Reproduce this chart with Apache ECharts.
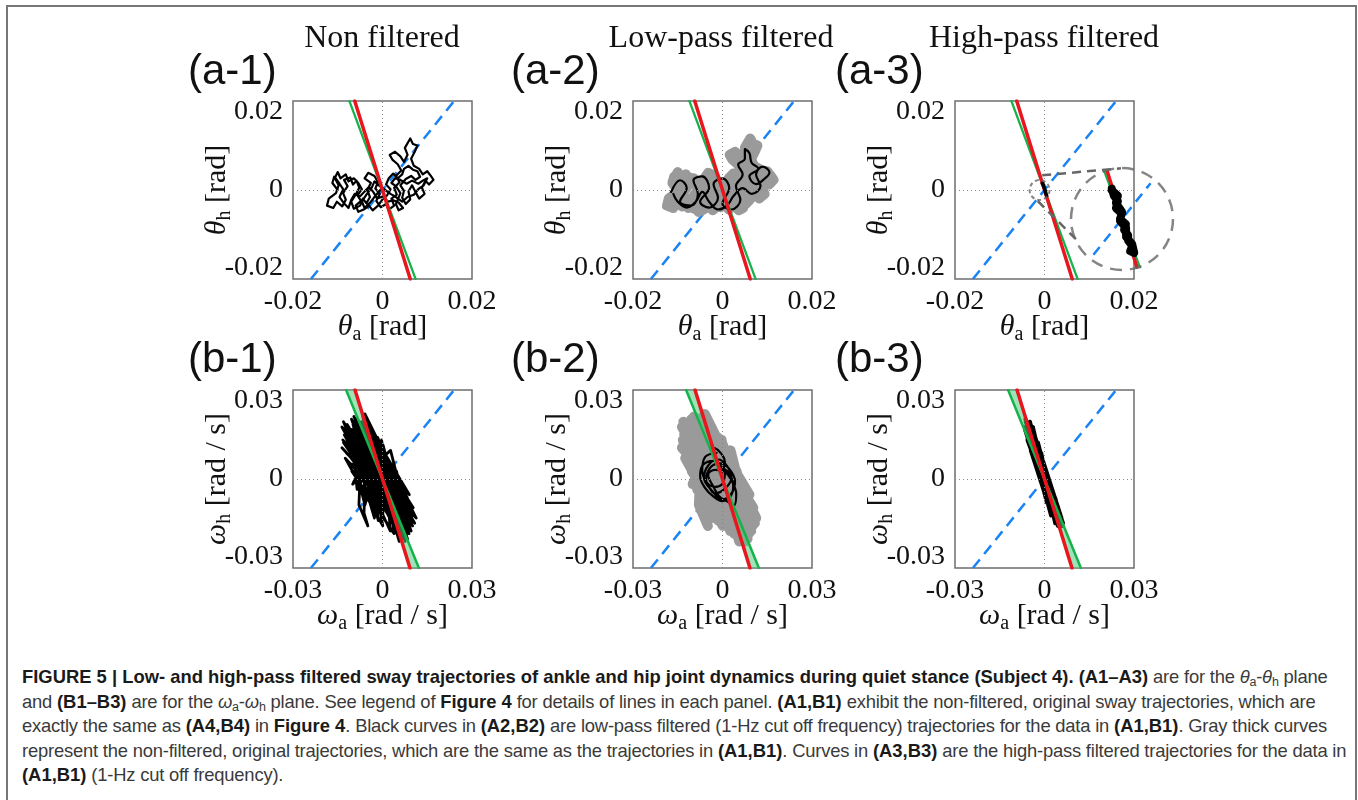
<!DOCTYPE html>
<html>
<head>
<meta charset="utf-8">
<title>Figure 5</title>
<script src="https://cdn.jsdelivr.net/npm/echarts@6/dist/echarts.min.js"></script>
<style>
body { margin: 0; width: 1358px; height: 800px; overflow: hidden; background: #fff; position: relative; }
.frame { position: absolute; left: 6px; top: 5px; width: 1347px; height: 830px; border: 2px solid #777; }
#chart { position: absolute; left: 0; top: 0; width: 1358px; height: 655px; }
.caption { position: absolute; left: 22px; top: 665px; font-family: 'Liberation Sans', Arial, sans-serif;
  font-size: 18.4px; line-height: 24.5px; color: #3a3a3a; white-space: nowrap; letter-spacing: -0.2px; }
.caption b { color: #1a1a1a; letter-spacing: 0; }
.caption sub { font-size: 12.5px; vertical-align: -3px; line-height: 0; }
</style>
</head>
<body>
<div class="frame"></div>
<div id="chart"></div>
<div class="caption">
  <div><b>FIGURE 5 | Low- and high-pass filtered sway trajectories of ankle and hip joint dynamics during quiet stance (Subject 4). (A1–A3)</b> are for the <i>θ</i><sub>a</sub>-<i>θ</i><sub>h</sub> plane</div>
  <div>and <b>(B1–B3)</b> are for the <i>ω</i><sub>a</sub>-<i>ω</i><sub>h</sub> plane. See legend of <b>Figure 4</b> for details of lines in each panel. <b>(A1,B1)</b> exhibit the non-filtered, original sway trajectories, which are</div>
  <div>exactly the same as <b>(A4,B4)</b> in <b>Figure 4</b>. Black curves in <b>(A2,B2)</b> are low-pass filtered (1-Hz cut off frequency) trajectories for the data in <b>(A1,B1)</b>. Gray thick curves</div>
  <div>represent the non-filtered, original trajectories, which are the same as the trajectories in <b>(A1,B1)</b>. Curves in <b>(A3,B3)</b> are the high-pass filtered trajectories for the data in</div>
  <div><b>(A1,B1)</b> (1-Hz cut off frequency).</div>
</div>
<script>
// axis ranges; the y ranges run a little past the outer tick
const thetaX = [-0.02, 0.02]
const thetaY = [-0.0228, 0.0228]
const thetaTicks = [-0.02, 0, 0.02]
const omegaX = [-0.03, 0.03]
const omegaY = [-0.0342, 0.0342]
const omegaTicks = [-0.03, 0, 0.03]

// reference lines (end points at top / bottom of the panel)
const thetaRed = [[-0.0062, 0.0228], [0.0062, -0.0228]]
const thetaGreen = [[-0.0074, 0.0228], [0.0074, -0.0228]]
const thetaDiag = [[-0.016, -0.0228], [0.016, 0.0228]]
const omegaRed = [[-0.0092, 0.0342], [0.0092, -0.0342]]
const omegaGreen = [[-0.0122, 0.0342], [0.0122, -0.0342]]
const omegaBandInner = [[-0.0094, 0.0342], [0.0094, -0.0342]]
const omegaDiag = [[-0.024, -0.0342], [0.024, 0.0342]]

// theta_a - theta_h trajectories
const nonFilteredTheta = [
  [-0.0100, 0.0000], [-0.0112, 0.0018], [-0.0108, 0.0034], [-0.0098, 0.0012], [-0.0104, -0.0008], [-0.0120, -0.0022],
  [-0.0124, -0.0040], [-0.0110, -0.0046], [-0.0102, -0.0030], [-0.0090, -0.0042], [-0.0082, -0.0025], [-0.0088, -0.0008],
  [-0.0078, 0.0010], [-0.0086, 0.0026], [-0.0072, 0.0032], [-0.0066, 0.0014], [-0.0058, 0.0024], [-0.0052, 0.0006],
  [-0.0060, -0.0012], [-0.0070, -0.0030], [-0.0064, -0.0048], [-0.0050, -0.0040], [-0.0044, -0.0022], [-0.0036, -0.0034],
  [-0.0028, -0.0018], [-0.0034, 0.0000], [-0.0026, 0.0018], [-0.0040, 0.0030], [-0.0032, 0.0044], [-0.0018, 0.0036],
  [-0.0010, 0.0020], [-0.0016, 0.0004], [-0.0006, -0.0010], [-0.0014, -0.0028], [-0.0004, -0.0044], [0.0008, -0.0036],
  [0.0014, -0.0050], [0.0026, -0.0040], [0.0020, -0.0022], [0.0032, -0.0012], [0.0026, 0.0006], [0.0038, 0.0020],
  [0.0030, 0.0036], [0.0042, 0.0050], [0.0034, 0.0066], [0.0022, 0.0078], [0.0016, 0.0090], [0.0028, 0.0098],
  [0.0040, 0.0086], [0.0048, 0.0072], [0.0056, 0.0090], [0.0050, 0.0108], [0.0062, 0.0132], [0.0068, 0.0118],
  [0.0078, 0.0114], [0.0072, 0.0098], [0.0064, 0.0080], [0.0070, 0.0062], [0.0082, 0.0054], [0.0090, 0.0040],
  [0.0100, 0.0048], [0.0108, 0.0036], [0.0114, 0.0026], [0.0104, 0.0014], [0.0096, 0.0024], [0.0088, 0.0006],
  [0.0094, -0.0010], [0.0082, -0.0022], [0.0074, -0.0006], [0.0066, 0.0012], [0.0058, -0.0004], [0.0062, -0.0024],
  [0.0052, -0.0036], [0.0044, -0.0020], [0.0048, -0.0002], [0.0040, 0.0012], [0.0052, 0.0028], [0.0064, 0.0036],
  [0.0074, 0.0026], [0.0084, 0.0034], [0.0078, 0.0048], [0.0068, 0.0052], [0.0058, 0.0062], [0.0048, 0.0054],
  [0.0044, 0.0040], [0.0034, 0.0030], [0.0024, 0.0042], [0.0014, 0.0030], [0.0008, 0.0014], [0.0018, 0.0002],
  [0.0010, -0.0014], [0.0000, -0.0024], [-0.0010, -0.0040], [-0.0022, -0.0052], [-0.0030, -0.0040], [-0.0042, -0.0050],
  [-0.0054, -0.0056], [-0.0060, -0.0040], [-0.0048, -0.0028], [-0.0056, -0.0014], [-0.0046, 0.0002], [-0.0054, 0.0018],
  [-0.0064, 0.0030], [-0.0076, 0.0022], [-0.0082, 0.0040], [-0.0094, 0.0030], [-0.0100, 0.0046], [-0.0106, 0.0032],
  [-0.0096, 0.0016], [-0.0088, 0.0002], [-0.0096, -0.0018], [-0.0086, -0.0034], [-0.0076, -0.0046], [-0.0070, -0.0026],
  [-0.0062, -0.0010], [-0.0050, -0.0016], [-0.0040, -0.0004], [-0.0030, 0.0008], [-0.0020, -0.0006], [-0.0012, -0.0022],
  [0.0002, -0.0016], [0.0012, -0.0030], [0.0024, -0.0026], [0.0036, -0.0032], [0.0046, -0.0046], [0.0036, -0.0052],
  [0.0030, -0.0036], [0.0040, -0.0008], [0.0030, 0.0010], [0.0020, 0.0018], [0.0028, 0.0030], [0.0040, 0.0026],
  [0.0054, 0.0016], [0.0066, 0.0024], [0.0080, 0.0016], [0.0090, 0.0024], [0.0100, 0.0030], [0.0092, 0.0012],
  [0.0080, 0.0002], [0.0070, -0.0012], [0.0056, -0.0018], [0.0044, -0.0030], [0.0030, -0.0018], [0.0018, -0.0010],
  [0.0006, 0.0000], [-0.0006, 0.0010], [-0.0018, 0.0022], [-0.0024, 0.0006], [-0.0036, -0.0012], [-0.0046, -0.0030],
  [-0.0040, -0.0046], [-0.0026, -0.0030], [-0.0014, -0.0012], [-0.0002, 0.0004]
]
const lowPassTheta = [
  [-0.0115, -0.0005], [-0.0095, 0.0025], [-0.0080, 0.0005], [-0.0095, -0.0030], [-0.0070, -0.0040], [-0.0055, -0.0010],
  [-0.0065, 0.0025], [-0.0045, 0.0035], [-0.0030, 0.0005], [-0.0050, -0.0030], [-0.0030, -0.0045], [-0.0010, -0.0020],
  [-0.0020, 0.0015], [0.0000, 0.0030], [0.0015, 0.0005], [0.0000, -0.0035], [0.0020, -0.0050], [0.0040, -0.0025],
  [0.0030, 0.0010], [0.0045, 0.0040], [0.0035, 0.0065], [0.0050, 0.0080], [0.0050, 0.0105], [0.0060, 0.0095],
  [0.0065, 0.0070], [0.0080, 0.0055], [0.0060, 0.0035], [0.0075, 0.0015], [0.0095, 0.0030], [0.0105, 0.0045],
  [0.0090, 0.0060], [0.0075, 0.0040], [0.0085, 0.0010], [0.0065, -0.0010], [0.0045, 0.0005], [0.0025, -0.0015],
  [0.0010, -0.0040], [-0.0010, -0.0050], [-0.0030, -0.0030], [-0.0045, -0.0005], [-0.0060, -0.0030], [-0.0080, -0.0045],
  [-0.0100, -0.0030], [-0.0110, -0.0010]
]
const highPassTheta = [
  [-0.0005, 0.0017], [-0.0004, 0.0013], [-0.0002, 0.0010], [-0.0003, 0.0006], [0.0000, 0.0003], [-0.0001, 0.0000],
  [0.0002, -0.0003], [0.0001, -0.0006], [0.0003, -0.0009], [0.0003, -0.0012], [0.0005, -0.0015], [0.0004, -0.0018],
  [0.0006, -0.0019], [0.0005, -0.0014], [0.0002, -0.0010], [0.0002, -0.0005], [-0.0001, -0.0001], [0.0000, 0.0004],
  [-0.0003, 0.0009], [-0.0002, 0.0013], [-0.0005, 0.0016]
]

// omega_a - omega_h trajectories
const nonFilteredOmega = [
  [-0.0101, 0.010], [0.0086, -0.012], [-0.0086, 0.016], [-0.0035, -0.008], [-0.0046, 0.020], [0.0086, -0.016],
  [-0.0110, 0.006], [0.0075, -0.004], [-0.0101, 0.022], [0.0056, -0.020], [-0.0006, 0.012], [-0.0059, -0.010],
  [-0.0121, 0.018], [0.0061, -0.014], [0.0035, 0.004], [0.0081, -0.022], [-0.0131, 0.014], [0.0090, -0.006],
  [-0.0066, 0.024], [0.0001, -0.018], [-0.0125, 0.008], [0.0036, -0.012], [-0.0028, 0.017], [-0.0100, -0.002],
  [0.0027, 0.011], [0.0093, -0.019], [-0.0119, 0.021], [-0.0027, -0.015], [-0.0018, 0.009], [0.0076, -0.024],
  [-0.0073, 0.019], [0.0063, -0.007], [-0.0098, 0.013], [0.0098, -0.017], [-0.0078, 0.005], [0.0103, -0.011],
  [-0.0084, 0.023], [-0.0002, -0.009], [-0.0003, 0.015], [0.0039, -0.021], [-0.0103, 0.003], [0.0038, -0.005],
  [-0.0051, 0.018], [-0.0062, -0.013], [-0.0049, -0.018], [-0.0079, -0.010], [-0.0073, 0.007], [0.0036, -0.016],
  [-0.0136, 0.020], [0.0063, -0.003], [-0.0066, 0.012], [0.0096, -0.020], [-0.0016, 0.016], [0.0035, -0.008],
  [-0.0121, 0.010], [0.0101, -0.014], [-0.0071, 0.022], [-0.0072, -0.001], [0.0020, 0.006], [0.0064, -0.023],
  [-0.0071, 0.014], [0.0063, -0.011], [-0.0103, 0.019], [0.0058, -0.017], [0.0005, 0.008], [-0.0060, -0.006],
  [-0.0059, 0.025], [0.0113, -0.015], [-0.0113, 0.011], [0.0068, -0.009], [-0.0128, 0.017], [0.0043, -0.019],
  [0.0020, 0.002], [-0.0034, -0.012], [-0.0059, 0.021], [0.0089, -0.021], [-0.0028, 0.013], [-0.0085, -0.004],
  [-0.0098, 0.009], [0.0076, -0.016], [-0.0133, 0.015], [0.0083, -0.007], [-0.0104, 0.023], [0.0018, -0.013],
  [0.0002, 0.005], [0.0051, -0.022], [-0.0031, 0.018], [0.0041, -0.010], [-0.0136, 0.012], [0.0101, -0.018],
  [-0.0023, 0.007], [-0.0072, -0.005], [-0.0086, 0.020], [0.0001, -0.014], [0.0009, 0.010], [0.0026, -0.020],
  [-0.0116, 0.016], [0.0075, -0.008], [-0.0045, 0.004], [0.0053, -0.015], [-0.0131, 0.022], [-0.0007, -0.011],
  [-0.0031, 0.014], [0.0084, -0.023], [-0.0043, 0.019], [-0.0047, -0.003], [-0.0083, 0.011], [0.0108, -0.017],
  [-0.0096, 0.024], [0.0048, -0.009], [-0.0105, 0.008], [0.0073, -0.019], [0.0002, 0.013], [0.0020, -0.006],
  [-0.0098, 0.017], [0.0069, -0.021], [0.0047, 0.003], [0.0078, -0.013], [-0.0099, 0.021], [-0.0014, -0.016],
  [-0.0038, 0.009], [0.0056, -0.012], [-0.0063, 0.015], [0.0050, -0.002], [-0.0090, 0.006], [0.0051, -0.018],
  [-0.0111, 0.018], [0.0091, -0.010], [-0.0036, 0.012], [0.0056, -0.024]
]
const lowPassOmega = [
  [-0.0020, 0.0100], [-0.0058, 0.0085], [-0.0068, 0.0030], [-0.0052, -0.0015], [-0.0025, -0.0055], [0.0010, -0.0035],
  [0.0030, 0.0005], [0.0012, 0.0055], [-0.0015, 0.0075], [-0.0048, 0.0052], [-0.0062, 0.0005], [-0.0035, -0.0045],
  [-0.0002, -0.0078], [0.0030, -0.0055], [0.0042, -0.0010], [0.0022, 0.0040], [-0.0008, 0.0060], [-0.0040, 0.0045],
  [-0.0055, -0.0005], [-0.0025, -0.0030], [0.0002, -0.0015], [0.0008, 0.0025], [-0.0025, 0.0035], [-0.0048, 0.0015],
  [-0.0030, -0.0030], [-0.0012, -0.0065], [0.0018, -0.0088], [0.0038, -0.0102], [0.0046, -0.0058], [0.0030, -0.0005],
  [0.0005, 0.0035], [-0.0030, 0.0070], [-0.0065, 0.0055], [-0.0075, 0.0012], [-0.0058, -0.0035], [-0.0030, -0.0068],
  [0.0000, -0.0085], [0.0028, -0.0065], [0.0036, -0.0025], [0.0020, 0.0025], [-0.0010, 0.0052], [-0.0032, 0.0095],
  [-0.0042, 0.0125], [-0.0012, 0.0108], [0.0008, 0.0065], [-0.0005, 0.0018]
]
const highPassOmega = [
  [-0.0063, 0.022], [0.0046, -0.012], [-0.0031, 0.016], [0.0036, -0.017], [-0.0039, 0.020], [0.0002, -0.006],
  [-0.0046, 0.011], [0.0061, -0.018], [-0.0061, 0.018], [0.0015, -0.010], [-0.0005, 0.007], [0.0057, -0.015],
  [-0.0049, 0.021], [0.0021, -0.004], [-0.0049, 0.013], [0.0045, -0.016], [-0.0022, 0.014], [0.0008, -0.009],
  [-0.0064, 0.023], [0.0046, -0.014], [-0.0026, 0.005], [0.0046, -0.011], [-0.0054, 0.017], [0.0045, -0.018],
  [-0.0012, 0.009], [0.0031, -0.007], [-0.0065, 0.019], [0.0021, -0.013], [-0.0026, 0.012], [0.0062, -0.017],
  [-0.0057, 0.015], [0.0006, -0.005], [-0.0011, 0.010], [0.0026, -0.012], [-0.0064, 0.020], [0.0057, -0.016],
  [-0.0002, 0.003], [0.0038, -0.008], [-0.0047, 0.016], [0.0022, -0.014], [-0.0030, 0.008], [0.0057, -0.018],
  [-0.0049, 0.022], [0.0031, -0.010], [-0.0044, 0.012], [0.0035, -0.015], [-0.0037, 0.018], [-0.0004, -0.003],
  [-0.0006, 0.006], [0.0042, -0.012]
]

// magnified view in (a-3)
const zoomSpot = [[-0.0011, 0]]
const zoomLinkTop = [[-0.00052, 0.00377], [0.01708, 0.00556]]
const zoomLinkBottom = [[-0.00151, -0.00282], [0.00719, -0.0128]]
const insetX = [-0.0025, 0.0025]
const insetY = [-0.00285, 0.00285]
const insetRed = [[-0.00073, 0.0027], [0.00073, -0.0027]]
const insetGreen = [[-0.00088, 0.0027], [0.00088, -0.0027]]
const insetDiag = [[-0.0014, -0.0020], [0.0014, 0.0020]]

const serif = '"Liberation Serif", "Times New Roman", serif'
const RED = '#e8161e'
const GREEN = '#16b24b'
const BLUE = '#1a84f5'
const GRAY = '#9a9a9a'

const nameStyle = {
  fontFamily: serif, fontSize: 30, color: '#111', lineHeight: 36,
  rich: {
    i: { fontFamily: serif, fontSize: 30, fontStyle: 'italic', color: '#111', lineHeight: 36 },
    s: { fontFamily: serif, fontSize: 20, color: '#111', lineHeight: 16, verticalAlign: 'bottom' }
  }
}

const chart = echarts.init(document.getElementById('chart'))

const panelPos = [[293, 101], [633, 101], [955, 101], [293, 390], [633, 390], [955, 390]]
const grid = panelPos.map(p => ({
  left: p[0], top: p[1], width: 179, height: 178,
  show: true, borderColor: '#6e6e6e', borderWidth: 1.5, backgroundColor: 'transparent'
}))
grid.push({ left: 1071, top: 168, width: 102, height: 102, show: false })

const xAxis = []
const yAxis = []
panelPos.forEach((p, i) => {
  const omega = i >= 3
  const sym = omega ? 'ω' : 'θ'
  const unit = omega ? '[rad / s]' : '[rad]'
  const lab = { customValues: omega ? omegaTicks : thetaTicks, fontFamily: serif, fontSize: 28, color: '#111', formatter: v => String(v) }
  xAxis.push({
    gridIndex: i, type: 'value', min: (omega ? omegaX : thetaX)[0], max: (omega ? omegaX : thetaX)[1],
    axisLine: { show: false }, axisTick: { show: false }, splitLine: { show: false },
    axisLabel: { ...lab, margin: 9 },
    name: '{i|' + sym + '}{s|a} ' + unit, nameLocation: 'middle', nameGap: 30, nameMoveOverlap: false,
    nameTextStyle: nameStyle
  })
  yAxis.push({
    gridIndex: i, type: 'value', min: (omega ? omegaY : thetaY)[0], max: (omega ? omegaY : thetaY)[1],
    axisLine: { show: false }, axisTick: { show: false }, splitLine: { show: false },
    axisLabel: { ...lab, margin: 10 },
    name: '{i|' + sym + '}{s|h} ' + unit, nameLocation: 'middle', nameRotate: 90, nameGap: 58, nameMoveOverlap: false,
    nameTextStyle: nameStyle
  })
})
xAxis.push({ gridIndex: 6, type: 'value', min: insetX[0], max: insetX[1], show: false })
yAxis.push({ gridIndex: 6, type: 'value', min: insetY[0], max: insetY[1], show: false })

function line(gi, data, color, width, z, extra) {
  return Object.assign({
    type: 'line', xAxisIndex: gi, yAxisIndex: gi, data, symbol: 'none', silent: true, z,
    lineStyle: { color, width, cap: 'round', join: 'round' }
  }, extra || {})
}

function zeroLines(gi, diag) {
  return line(gi, diag, BLUE, 2.5, 2, {
    lineStyle: { color: BLUE, width: 2.5, type: [11, 7] },
    markLine: {
      silent: true, symbol: 'none', label: { show: false }, animation: false,
      lineStyle: { color: '#888', width: 1, type: [1, 3] },
      data: [{ xAxis: 0 }, { yAxis: 0 }]
    }
  })
}

function band(gi, outer, inner) {
  return {
    type: 'custom', xAxisIndex: gi, yAxisIndex: gi, data: [[0, 0]], z: 5, silent: true,
    renderItem: (params, api) => {
      const pts = [outer[0], inner[0], inner[1], outer[1]].map(p => api.coord(p))
      return { type: 'polygon', shape: { points: pts }, style: { fill: 'rgba(80,205,125,0.55)' } }
    }
  }
}

const series = []
// row a
for (let i = 0; i < 3; i++) {
  series.push(zeroLines(i, thetaDiag))
  series.push(line(i, thetaGreen, GREEN, 2.2, 6))
  series.push(line(i, thetaRed, RED, 3.5, 7))
}
series.push(line(0, nonFilteredTheta, '#000', 2.2, 4))
series.push(line(1, nonFilteredTheta, GRAY, 10, 3))
series.push(line(1, lowPassTheta, '#000', 2.2, 4, { smooth: 0.4 }))
series.push(line(2, highPassTheta, '#000', 3.5, 8))
// row b
for (let i = 3; i < 6; i++) {
  series.push(zeroLines(i, omegaDiag))
  series.push(band(i, omegaGreen, omegaBandInner))
  series.push(line(i, omegaGreen, GREEN, 2.5, 6))
  series.push(line(i, omegaRed, RED, 3.5, 7))
}
series.push(line(3, nonFilteredOmega, '#000', 2.8, 4))
series.push(line(4, nonFilteredOmega, GRAY, 10, 3))
series.push(line(4, lowPassOmega, '#000', 2.2, 4, { smooth: 0.4 }))
series.push(line(5, highPassOmega, '#000', 4, 4))

// zoom marker, links and magnified view
const dashGray = { color: '#666', width: 2.5, type: [9, 6] }
series.push({
  type: 'scatter', xAxisIndex: 2, yAxisIndex: 2, data: zoomSpot, symbolSize: 20, z: 9, silent: true,
  itemStyle: { color: 'rgba(0,0,0,0)', borderColor: '#666', borderWidth: 2, borderType: [4, 3] }
})
series.push(line(2, zoomLinkTop, '#666', 2.5, 9, { lineStyle: dashGray }))
series.push(line(2, zoomLinkBottom, '#666', 2.5, 9, { lineStyle: dashGray }))
series.push({
  type: 'scatter', xAxisIndex: 6, yAxisIndex: 6, data: [[0, 0]], symbolSize: 102, z: 9, silent: true, clip: false,
  itemStyle: { color: 'rgba(0,0,0,0)', borderColor: '#666', borderWidth: 2.5, borderType: [12, 8] }
})
series.push(line(6, insetDiag, BLUE, 2.5, 2, { lineStyle: { color: BLUE, width: 2.5, type: [10, 7] }, clip: false }))
series.push(line(6, insetGreen, GREEN, 2.2, 6, { clip: false }))
series.push(line(6, insetRed, RED, 3.5, 7, { clip: false }))
series.push(line(6, highPassTheta, '#000', 8, 8, { clip: false }))

const titleStyle = { fontFamily: serif, fontSize: 32, fontWeight: 'normal', color: '#111' }
const tagStyle = { fontFamily: '"Liberation Sans", Arial, sans-serif', fontSize: 42, fontWeight: 'normal', color: '#111' }
const title = [
  { text: 'Non filtered', left: 382, top: 23, textAlign: 'center', padding: 0, textStyle: titleStyle },
  { text: 'Low-pass filtered', left: 721, top: 23, textAlign: 'center', padding: 0, textStyle: titleStyle },
  { text: 'High-pass filtered', left: 1044, top: 23, textAlign: 'center', padding: 0, textStyle: titleStyle },
  { text: '(a-1)', left: 188, top: 51, padding: 0, textStyle: tagStyle },
  { text: '(a-2)', left: 511, top: 51, padding: 0, textStyle: tagStyle },
  { text: '(a-3)', left: 835, top: 51, padding: 0, textStyle: tagStyle },
  { text: '(b-1)', left: 188, top: 339, padding: 0, textStyle: tagStyle },
  { text: '(b-2)', left: 511, top: 339, padding: 0, textStyle: tagStyle },
  { text: '(b-3)', left: 835, top: 339, padding: 0, textStyle: tagStyle }
]

chart.setOption({ animation: false, title, grid, xAxis, yAxis, series })
</script>
</body>
</html>
